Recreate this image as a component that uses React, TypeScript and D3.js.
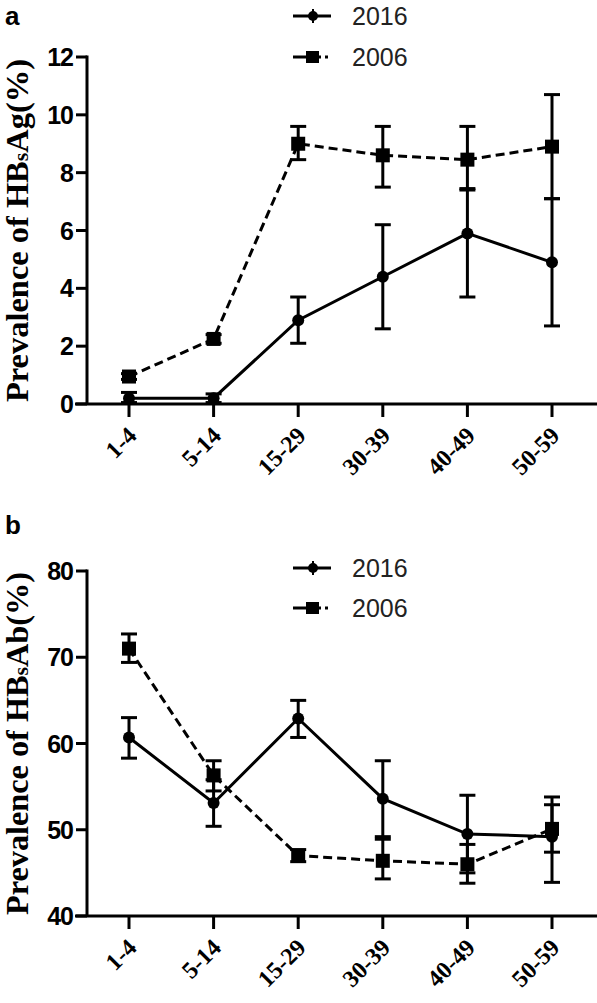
import React from "react";
import * as d3 from "d3";

const categories = ["1-4", "5-14", "15-29", "30-39", "40-49", "50-59"];
const seriesNames = ["2016", "2006"];

// Panel a: HBsAg prevalence
const agTicks = [0, 2, 4, 6, 8, 10, 12];
const ag2016 = [0.2, 0.2, 2.9, 4.4, 5.9, 4.9];
const ag2016Low = [0.05, 0.05, 2.1, 2.6, 3.7, 2.7];
const ag2016High = [0.4, 0.35, 3.7, 6.2, 7.4, 7.1];
const ag2006 = [0.95, 2.25, 9.0, 8.6, 8.45, 8.9];
const ag2006Low = [0.85, 2.1, 8.45, 7.5, 7.45, 7.1];
const ag2006High = [1.05, 2.4, 9.6, 9.6, 9.6, 10.7];

// Panel b: HBsAb prevalence
const abTicks = [40, 50, 60, 70, 80];
const ab2016 = [60.7, 53.1, 62.9, 53.6, 49.5, 49.2];
const ab2016Low = [58.3, 50.4, 60.7, 49.2, 45.0, 43.9];
const ab2016High = [63.0, 55.8, 65.0, 58.0, 54.0, 53.8];
const ab2006 = [71.0, 56.3, 47.0, 46.4, 46.0, 50.1];
const ab2006Low = [69.4, 54.5, 46.3, 44.3, 43.8, 47.4];
const ab2006High = [72.7, 58.0, 47.7, 48.9, 48.3, 52.9];

const xScale = d3.scalePoint<string>().domain(categories).range([129, 552]);

type Series = { vals: number[]; low: number[]; high: number[]; dashed: boolean; marker: "circle" | "square" };

function Panel({
  letter, letterY, top, bottom, domain, ticks, series, titleMain, titleSub, titleEnd, legendY,
}: {
  letter: string; letterY: number; top: number; bottom: number; domain: [number, number]; ticks: number[];
  series: Series[]; titleMain: string; titleSub: string; titleEnd: string; legendY: number[];
}) {
  const y = d3.scaleLinear().domain(domain).range([bottom, top]);
  const axisX = 87;
  const line = d3.line<number>().x((_, i) => xScale(categories[i])!).y((d) => y(d));
  const titleCenter = (top + bottom) / 2;
  return (
    <g>
      <text x={5} y={letterY} fontFamily="Liberation Sans, Arial, sans-serif" fontWeight="bold" fontSize={26}>{letter}</text>
      {/* y axis title */}
      <text
        transform={`translate(28,${titleCenter}) rotate(-90)`}
        textAnchor="middle"
        fontFamily="Liberation Serif, Times New Roman, serif"
        fontWeight="bold"
        fontSize={31}
        textLength={343}
        lengthAdjust="spacingAndGlyphs"
      >
        {titleMain}
        <tspan fontSize={21}>{titleSub}</tspan>
        {titleEnd}
      </text>
      {/* axes */}
      <line x1={axisX} x2={axisX} y1={top - 1.5} y2={bottom} stroke="#000" strokeWidth={3} />
      <line x1={axisX - 12} x2={597} y1={bottom} y2={bottom} stroke="#000" strokeWidth={3} />
      {ticks.map((t) => (
        <g key={t}>
          <line x1={axisX - 11} x2={axisX} y1={y(t)} y2={y(t)} stroke="#000" strokeWidth={3} />
          <text x={axisX - 14} y={y(t)} dy="0.36em" textAnchor="end" fontFamily="Liberation Sans, Arial, sans-serif" fontWeight="bold" fontSize={25} letterSpacing={-1}>{t}</text>
        </g>
      ))}
      {categories.map((c) => (
        <g key={c}>
          <line x1={xScale(c)!} x2={xScale(c)!} y1={bottom} y2={bottom + 13} stroke="#000" strokeWidth={3} />
          <text
            transform={`translate(${xScale(c)! + 9},${bottom + 33}) rotate(-45)`}
            textAnchor="end"
            fontFamily="Liberation Serif, Times New Roman, serif"
            fontWeight="bold"
            fontSize={24}
          >{c}</text>
        </g>
      ))}
      {/* series */}
      {series.map((s, si) => (
        <g key={si}>
          <path d={line(s.vals)!} fill="none" stroke="#000" strokeWidth={3} strokeDasharray={s.dashed ? "9,5" : undefined} />
          {s.vals.map((v, i) => {
            const cx = xScale(categories[i])!;
            return (
              <g key={i}>
                <line x1={cx} x2={cx} y1={y(s.low[i])} y2={y(s.high[i])} stroke="#000" strokeWidth={3} />
                <line x1={cx - 8} x2={cx + 8} y1={y(s.low[i])} y2={y(s.low[i])} stroke="#000" strokeWidth={3} />
                <line x1={cx - 8} x2={cx + 8} y1={y(s.high[i])} y2={y(s.high[i])} stroke="#000" strokeWidth={3} />
                {s.marker === "square" ? (
                  <rect x={cx - 7} y={y(v) - 7} width={14} height={14} fill="#000" />
                ) : (
                  <circle cx={cx} cy={y(v)} r={6} fill="#000" />
                )}
              </g>
            );
          })}
        </g>
      ))}
      {/* legend */}
      {series.map((s, si) => (
        <g key={"leg" + si}>
          <line x1={293} x2={331} y1={legendY[si]} y2={legendY[si]} stroke="#000" strokeWidth={3} strokeDasharray={s.dashed ? "28,4,3" : undefined} />
          {s.marker === "square" ? (
            <rect x={306} y={legendY[si] - 6} width={13} height={12} fill="#000" />
          ) : (
            <g>
              <circle cx={313} cy={legendY[si]} r={5} fill="#000" />
              <line x1={313} x2={313} y1={legendY[si] - 7} y2={legendY[si] + 7} stroke="#000" strokeWidth={2} />
            </g>
          )}
          <text x={352} y={legendY[si] + 9} fontFamily="Liberation Sans, Arial, sans-serif" fontSize={25} fill="#222">{seriesNames[si]}</text>
        </g>
      ))}
    </g>
  );
}

export default function App() {
  return (
    <svg width={597} height={1003} style={{ position: "absolute", left: 0, top: 0, background: "#fff" }}>
      <rect width={597} height={1003} fill="#fff" />
      <Panel
        letter="a" letterY={25} top={57} bottom={404} domain={[0, 12]} ticks={agTicks}
        series={[
          { vals: ag2016, low: ag2016Low, high: ag2016High, dashed: false, marker: "circle" },
          { vals: ag2006, low: ag2006Low, high: ag2006High, dashed: true, marker: "square" },
        ]}
        titleMain="Prevalence of HB" titleSub="s" titleEnd="Ag(%)" legendY={[16, 57]}
      />
      <Panel
        letter="b" letterY={534} top={571} bottom={916} domain={[40, 80]} ticks={abTicks}
        series={[
          { vals: ab2016, low: ab2016Low, high: ab2016High, dashed: false, marker: "circle" },
          { vals: ab2006, low: ab2006Low, high: ab2006High, dashed: true, marker: "square" },
        ]}
        titleMain="Prevalence of HB" titleSub="s" titleEnd="Ab(%)" legendY={[568, 608]}
      />
    </svg>
  );
}
